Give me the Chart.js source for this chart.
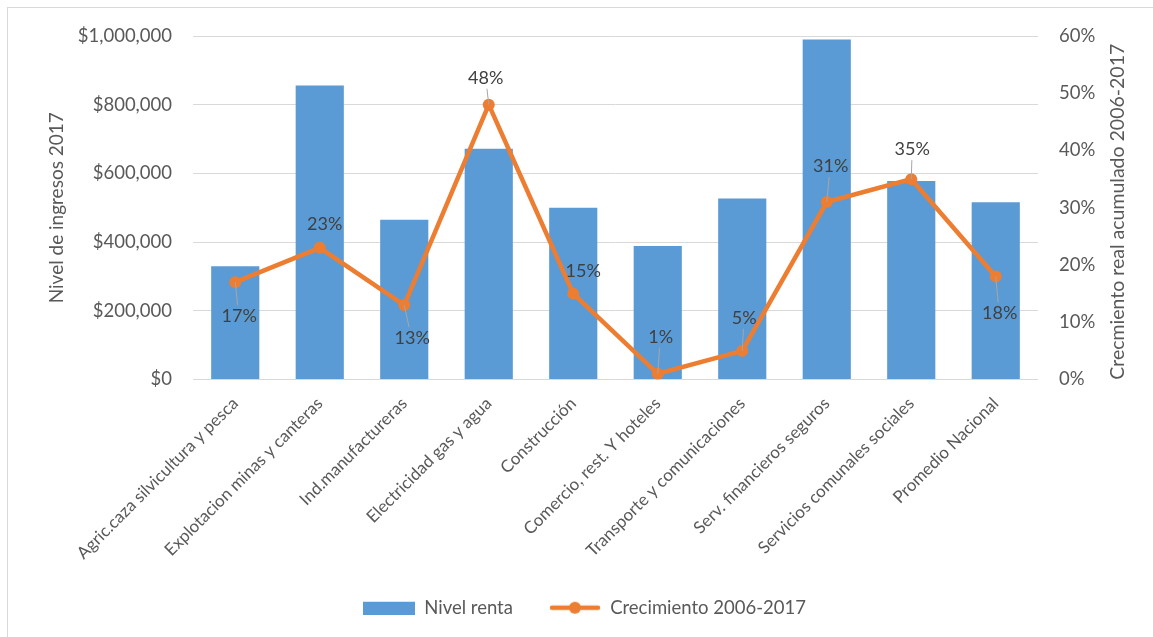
<!DOCTYPE html>
<html>
<head>
<meta charset="utf-8">
<script src="https://cdn.jsdelivr.net/npm/chart.js@4"></script>
<style>
  html, body { margin: 0; padding: 0; background: #fff; overflow: hidden; }
  #frame { position: absolute; left: 7px; top: 7px; width: 1160px; height: 640px; border: 1px solid #d9d9d9; }
  #chart { position: absolute; left: 0; top: 0; }
</style>
</head>
<body>
<div id="frame"></div>
<canvas id="chart" width="1153" height="637"></canvas>
<script>
// Sectores
const sectores = [
    'Agric.caza silvicultura y pesca',
    'Explotacion minas y canteras',
    'Ind.manufactureras',
    'Electricidad gas y agua',
    'Construcción',
    'Comercio, rest. Y hoteles',
    'Transporte y comunicaciones',
    'Serv. financieros seguros',
    'Servicios comunales sociales',
    'Promedio Nacional'
];

// Nivel de ingresos 2017 (pesos)
const nivelRenta = [330000, 856000, 465000, 672000, 500000, 389000, 527000, 990000, 578000, 516000];

// Crecimiento real acumulado 2006-2017 (%)
const crecimiento = [17, 23, 13, 48, 15, 1, 5, 31, 35, 18];

// Etiquetas del eje derecho y del izquierdo
const ticksIngresos = [0, 200000, 400000, 600000, 800000, 1000000];
const ticksCrecimiento = [0, 10, 20, 30, 40, 50, 60];

// where each % label sits relative to its point
const labelPlacement = [
    { dx: 4, dy: 34, leader: true },
    { dx: 5, dy: -24, leader: false },
    { dx: 8, dy: 33, leader: true },
    { dx: -3, dy: -27, leader: true },
    { dx: 10, dy: -22, leader: false },
    { dx: 3, dy: -37, leader: true },
    { dx: 2, dy: -33, leader: true },
    { dx: 4, dy: -36, leader: true },
    { dx: 1, dy: -30, leader: true },
    { dx: 4, dy: 37, leader: true }
];

const AZUL = '#5b9bd5';
const NARANJA = '#ed7d31';
const GRIS = '#595959';
const FONT = 'Lato';

// little canvases used as legend symbols
function legendSymbol(draw) {
    const c = document.createElement('canvas');
    c.width = 52; c.height = 14;
    draw(c.getContext('2d'));
    return c;
}
const simboloBarra = legendSymbol(g => {
    g.fillStyle = AZUL;
    g.fillRect(0, 1, 52, 13);
});
const simboloLinea = legendSymbol(g => {
    g.strokeStyle = NARANJA;
    g.lineWidth = 4.5;
    g.lineCap = 'round';
    g.beginPath(); g.moveTo(3, 7); g.lineTo(49, 7); g.stroke();
    g.fillStyle = NARANJA;
    g.beginPath(); g.arc(26, 7, 6, 0, Math.PI * 2); g.fill();
});

// % labels with leader lines on the growth series
const etiquetasPlugin = {
    id: 'etiquetas',
    afterDatasetsDraw(chart) {
        const meta = chart.getDatasetMeta(1);
        const ctx = chart.ctx;
        ctx.save();
        ctx.font = '18px ' + FONT;
        ctx.textAlign = 'center';
        ctx.textBaseline = 'middle';
        meta.data.forEach((pt, i) => {
            const p = labelPlacement[i];
            const lx = pt.x + p.dx;
            const ly = pt.y + p.dy;
            if (p.leader) {
                const edge = p.dy > 0 ? ly - 11 : ly + 11;
                ctx.strokeStyle = '#a6a6a6';
                ctx.lineWidth = 1;
                ctx.beginPath();
                ctx.moveTo(pt.x + p.dx * 0.6, edge);
                ctx.lineTo(pt.x, pt.y);
                ctx.stroke();
            }
            ctx.fillStyle = '#404040';
            ctx.fillText(crecimiento[i] + '%', lx, ly);
        });
        ctx.restore();
    }
};

// right axis title, reading bottom to top
const tituloDerechoPlugin = {
    id: 'tituloDerecho',
    afterDraw(chart) {
        const s = chart.scales.y1;
        const ctx = chart.ctx;
        ctx.save();
        ctx.translate(s.right - 35, (chart.chartArea.top + chart.chartArea.bottom) / 2 + 4);
        ctx.rotate(-Math.PI / 2);
        ctx.font = '19.5px ' + FONT;
        ctx.fillStyle = GRIS;
        ctx.textAlign = 'center';
        ctx.textBaseline = 'middle';
        ctx.fillText('Crecmiento real acumulado 2006-2017', 0, 0);
        ctx.restore();
    }
};

new Chart(document.getElementById('chart'), {
    type: 'bar',
    data: {
        labels: sectores,
        datasets: [
            {
                type: 'bar',
                label: 'Nivel renta',
                data: nivelRenta,
                backgroundColor: AZUL,
                yAxisID: 'y',
                barPercentage: 0.57,
                categoryPercentage: 1,
                order: 1
            },
            {
                type: 'line',
                label: 'Crecimiento 2006-2017',
                data: crecimiento,
                borderColor: NARANJA,
                backgroundColor: NARANJA,
                borderWidth: 4.5,
                pointRadius: 6,
                pointBackgroundColor: NARANJA,
                pointBorderWidth: 0,
                tension: 0,
                yAxisID: 'y1',
                order: 0
            }
        ]
    },
    options: {
        responsive: false,
        animation: false,
        layout: { padding: { top: 36, left: 16, right: 0, bottom: 10 } },
        plugins: {
            tooltip: { enabled: false },
            legend: {
                position: 'bottom',
                labels: {
                    usePointStyle: true,
                    pointStyleWidth: 52,
                    boxHeight: 14,
                    padding: 36,
                    color: GRIS,
                    font: { family: FONT, size: 18.5 },
                    sort: (a, b) => a.datasetIndex - b.datasetIndex,
                    generateLabels(chart) {
                        const items = Chart.defaults.plugins.legend.labels.generateLabels(chart);
                        items.forEach(it => {
                            it.pointStyle = it.datasetIndex === 0 ? simboloBarra : simboloLinea;
                        });
                        return items;
                    }
                }
            }
        },
        scales: {
            x: {
                grid: { display: false },
                border: { display: false },
                ticks: {
                    color: GRIS,
                    font: { family: FONT, size: 17 },
                    minRotation: 45,
                    maxRotation: 45,
                    autoSkip: false,
                    padding: 6
                },
                afterFit(scale) { scale.height = 183; }
            },
            y: {
                position: 'left',
                min: 0,
                max: 1000000,
                afterBuildTicks(scale) { scale.ticks = ticksIngresos.map(v => ({ value: v })); },
                grid: { color: '#d9d9d9', lineWidth: 1, drawTicks: false },
                border: { display: false },
                ticks: {
                    color: GRIS,
                    font: { family: FONT, size: 18.5 },
                    padding: 21,
                    callback: v => '$' + v.toLocaleString('en-US')
                },
                title: {
                    display: true,
                    text: 'Nivel de ingresos 2017',
                    color: GRIS,
                    font: { family: FONT, size: 19 },
                    padding: { top: 29, bottom: 0 }
                },
                afterFit(scale) { scale.width = 177; }
            },
            y1: {
                position: 'right',
                min: 0,
                max: 60,
                afterBuildTicks(scale) { scale.ticks = ticksCrecimiento.map(v => ({ value: v })); },
                grid: { display: false, drawTicks: false },
                border: { display: false },
                ticks: {
                    color: GRIS,
                    font: { family: FONT, size: 18.5 },
                    padding: 21,
                    callback: v => v + '%'
                },
                afterFit(scale) { scale.width = 115; }
            }
        }
    },
    plugins: [etiquetasPlugin, tituloDerechoPlugin]
});
</script>
</body>
</html>
